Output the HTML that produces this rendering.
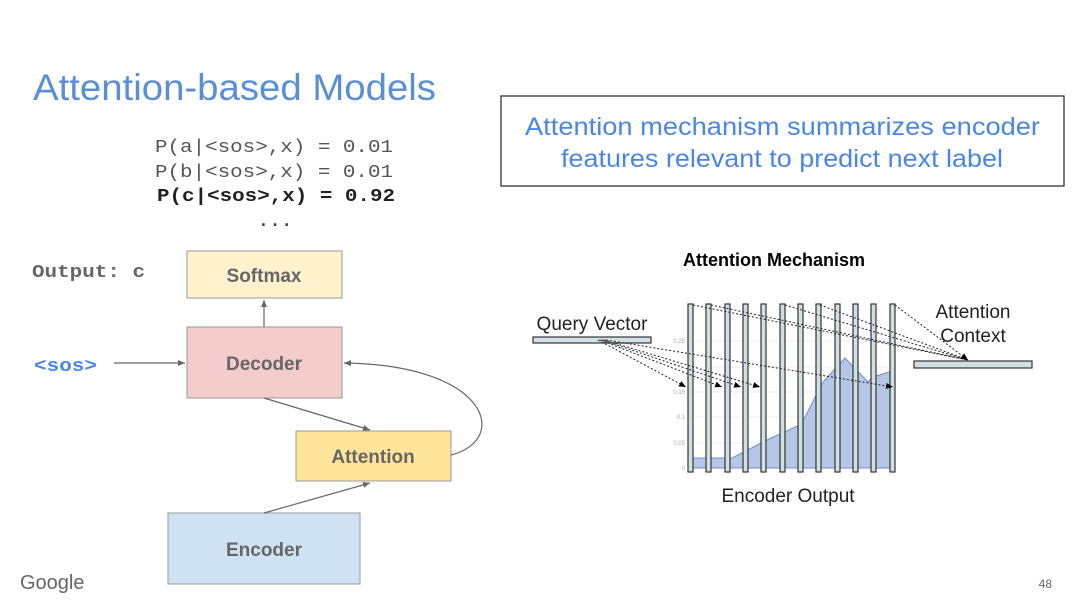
<!DOCTYPE html>
<html><head><meta charset="utf-8"><style>
html,body{margin:0;padding:0;background:#fff;}
svg{display:block;font-family:"Liberation Sans",sans-serif;}
.m{font-family:"Liberation Mono",monospace;}
</style></head><body>
<svg width="1080" height="607" viewBox="0 0 1080 607" xmlns="http://www.w3.org/2000/svg">
<defs>
<marker id="a" markerWidth="8" markerHeight="8" refX="7" refY="4" orient="auto" markerUnits="userSpaceOnUse"><path d="M0,1 L7,4 L0,7z" fill="#666"/></marker>
<marker id="b" markerWidth="8" markerHeight="8" refX="7" refY="4" orient="auto" markerUnits="userSpaceOnUse"><path d="M0,1 L7,4 L0,7z" fill="#000"/></marker>
</defs>
<rect width="1080" height="607" fill="#fff"/>
<text x="33" y="100" font-size="37" fill="#5a8ed8" textLength="403" lengthAdjust="spacingAndGlyphs">Attention-based Models</text>
<rect x="501" y="96" width="563" height="90" fill="#fff" stroke="#333" stroke-width="1.3"/>
<text x="525" y="135" font-size="25" fill="#4a86e8" textLength="515" lengthAdjust="spacingAndGlyphs">Attention mechanism summarizes encoder</text>
<text x="561" y="167" font-size="25" fill="#4a86e8" textLength="442" lengthAdjust="spacingAndGlyphs">features relevant to predict next label</text>

<g class="m" font-size="18" fill="#555">
<text x="155" y="152" textLength="238" lengthAdjust="spacingAndGlyphs">P(a|&lt;sos&gt;,x) = 0.01</text>
<text x="155" y="177" textLength="238" lengthAdjust="spacingAndGlyphs">P(b|&lt;sos&gt;,x) = 0.01</text>
<text x="157" y="201" font-weight="bold" fill="#222" textLength="238" lengthAdjust="spacingAndGlyphs">P(c|&lt;sos&gt;,x) = 0.92</text>
<text x="258" y="226" font-weight="bold" fill="#444" textLength="34">...</text>
<text x="32" y="277" font-weight="bold" fill="#666" textLength="113" lengthAdjust="spacingAndGlyphs">Output: c</text>
<text x="34" y="371" font-weight="bold" fill="#4a86e8" textLength="63" lengthAdjust="spacingAndGlyphs">&lt;sos&gt;</text>
</g>

<rect x="187" y="251" width="155" height="47" fill="#fff2cc" stroke="#999"/>
<text x="264" y="282" font-size="19" font-weight="bold" fill="#666" text-anchor="middle">Softmax</text>
<rect x="187" y="327" width="155" height="71" fill="#f4cccc" stroke="#999"/>
<text x="264" y="370" font-size="19" font-weight="bold" fill="#666" text-anchor="middle">Decoder</text>
<rect x="296" y="431" width="155" height="50" fill="#ffe599" stroke="#999"/>
<text x="373" y="463" font-size="19" font-weight="bold" fill="#666" text-anchor="middle">Attention</text>
<rect x="168" y="513" width="192" height="71" fill="#cfe2f3" stroke="#999"/>
<text x="264" y="556" font-size="19" font-weight="bold" fill="#666" text-anchor="middle">Encoder</text>

<g stroke="#666" stroke-width="1.2" fill="none">
<line x1="264" y1="327" x2="264" y2="300" marker-end="url(#a)"/>
<line x1="114" y1="363" x2="185" y2="363" marker-end="url(#a)"/>
<line x1="264" y1="398" x2="370" y2="430" marker-end="url(#a)"/>
<line x1="264" y1="513" x2="370" y2="483" marker-end="url(#a)"/>
<path d="M451,455 C510,440 490,365 344,363" marker-end="url(#a)"/>
</g>

<text x="774" y="266" font-size="18" font-weight="bold" fill="#000" text-anchor="middle">Attention Mechanism</text>
<text x="592" y="330" font-size="19" fill="#222" text-anchor="middle">Query Vector</text>
<text x="973" y="318" font-size="19" fill="#222" text-anchor="middle">Attention</text>
<text x="973" y="342" font-size="19" fill="#222" text-anchor="middle">Context</text>
<text x="788" y="502" font-size="19" fill="#222" text-anchor="middle">Encoder Output</text>

<g stroke="#eee" stroke-width="1">
<line x1="688" y1="468" x2="894" y2="468"/><line x1="688" y1="443" x2="894" y2="443"/>
<line x1="688" y1="417" x2="894" y2="417"/><line x1="688" y1="392" x2="894" y2="392"/>
<line x1="688" y1="367" x2="894" y2="367"/><line x1="688" y1="341" x2="894" y2="341"/>
</g>
<g font-size="6" fill="#aaa" text-anchor="end">
<text x="685" y="470">0</text><text x="685" y="445">0.05</text><text x="685" y="419">0.1</text>
<text x="685" y="394">0.15</text><text x="685" y="343">0.25</text>
</g>
<polygon points="690,468 690,458 732,458 767,440 800,425 805,417 823,382 845,358 868,382 873,377 892,371 892,468" fill="#b4c7e7" stroke="#6f8fc8" stroke-width="1"/>

<g fill="#d0e0e3" stroke="#333" stroke-width="1.2">
<rect x="688" y="304" width="5" height="168"/><rect x="706" y="304" width="5" height="168"/>
<rect x="725" y="304" width="5" height="168"/><rect x="743" y="304" width="5" height="168"/>
<rect x="761" y="304" width="5" height="168"/><rect x="780" y="304" width="5" height="168"/>
<rect x="798" y="304" width="5" height="168"/><rect x="816" y="304" width="5" height="168"/>
<rect x="835" y="304" width="5" height="168"/><rect x="853" y="304" width="5" height="168"/>
<rect x="871" y="304" width="5" height="168"/><rect x="890" y="304" width="5" height="168"/>
<rect x="533" y="337" width="118" height="6"/>
<rect x="914" y="361" width="118" height="7"/>
</g>

<g stroke="#222" stroke-width="1" stroke-dasharray="2,2" fill="none">
<line x1="598" y1="340" x2="686" y2="387" marker-end="url(#b)"/>
<line x1="600" y1="340" x2="722" y2="387" marker-end="url(#b)"/>
<line x1="602" y1="340" x2="741" y2="387" marker-end="url(#b)"/>
<line x1="604" y1="340" x2="760" y2="387" marker-end="url(#b)"/>
<line x1="606" y1="340" x2="893" y2="387" marker-end="url(#b)"/>
<line x1="693" y1="305" x2="968" y2="360"/>
<line x1="711" y1="305" x2="968" y2="360"/>
<line x1="785" y1="305" x2="968" y2="360"/>
<line x1="820" y1="305" x2="968" y2="360"/>
<line x1="895" y1="305" x2="968" y2="360" marker-end="url(#b)"/>
</g>

<text x="20" y="589" font-size="20" fill="#666">Google</text>
<text x="1052" y="588" font-size="12" fill="#666" text-anchor="end">48</text>
</svg>
</body></html>
